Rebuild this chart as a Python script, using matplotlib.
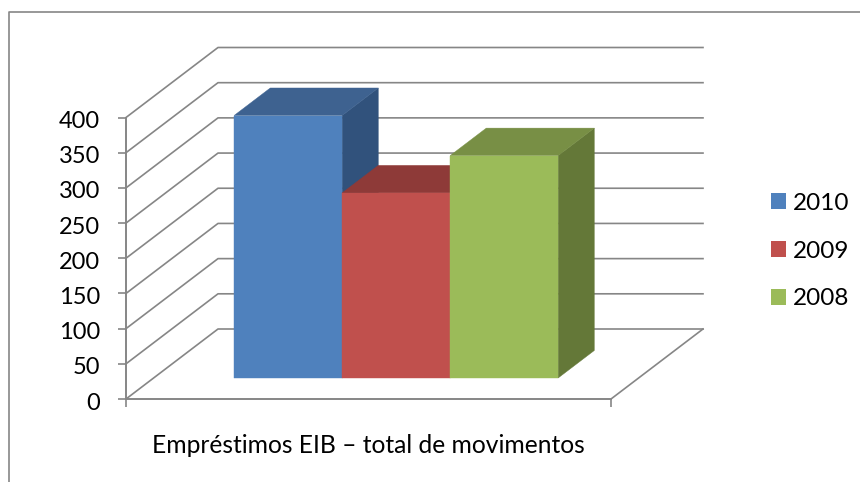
from matplotlib import pyplot as plt
from matplotlib.lines import Line2D
from matplotlib.patches import Patch, Polygon
from matplotlib.transforms import ScaledTranslation

plt.rcParams['font.family'] = ['Lato', 'DejaVu Sans']

years = ['2010', '2009', '2008']
totals = [373, 263, 316]
y_ticks = [0, 50, 100, 150, 200, 250, 300, 350, 400]
x_title = 'Empréstimos EIB – total de movimentos'

front_colors = ['#4F81BD', '#C0504D', '#9BBB59']
top_colors = ['#3E6290', '#8E3A38', '#788F45']
side_colors = ['#31527C', '#7B3331', '#647838']
line_color = '#868686'

W, H = 860, 482
# oblique projection: how far a point moves when it goes to the back wall
depth_x = 92 / 485
depth_y = 70 / (281.5 / 400)
bar_start = 0.166
bar_width = 0.2227
bar_d0, bar_d1 = 0.30, 0.693


def project(x, y, d):
    return x + d * depth_x, y + d * depth_y


def face(ax, points, color):
    ax.add_patch(Polygon(points, closed=True, facecolor=color, edgecolor=color,
                         linewidth=0.3, clip_on=False, zorder=3))


fig = plt.figure(figsize=(W / 100, H / 100), dpi=100)
ax = fig.add_axes([126 / W, (H - 399) / H, 485 / W, 281.5 / H])
ax.patch.set_visible(False)
ax.set_xlim(0, 1)
ax.set_ylim(0, 400)

# outer frame, only left and top are inside the picture
fig.add_artist(Line2D([8.7 / W, 8.7 / W, 1], [0, 1 - 12 / H, 1 - 12 / H], color=line_color, lw=1.2))

# walls
for v in y_ticks:
    bx, by = project(0, v, 1)
    ax.plot([0, bx, bx + 1], [v, by, by], color=line_color, lw=1.2, clip_on=False, zorder=1)
bx, by = project(1, 0, 1)
ax.plot([1, bx], [0, by], color=line_color, lw=1.2, clip_on=False, zorder=1)

# bars
for i, v in enumerate(totals):
    x0 = bar_start + i * bar_width
    x1 = x0 + bar_width
    fl, fb = project(x0, 0, bar_d0)
    fr, ft = project(x1, v, bar_d0)
    bl, bb = project(x0, 0, bar_d1)
    br, bt = project(x1, v, bar_d1)
    face(ax, [(fr, fb), (br, bb), (br, bt), (fr, ft)], side_colors[i])
    face(ax, [(fl, ft), (fr, ft), (br, bt), (bl, bt)], top_colors[i])
    face(ax, [(fl, fb), (fr, fb), (fr, ft), (fl, ft)], front_colors[i])

for side in ['top', 'right']:
    ax.spines[side].set_visible(False)
for side in ['left', 'bottom']:
    ax.spines[side].set_color(line_color)
    ax.spines[side].set_linewidth(1.4)

ax.set_yticks(y_ticks)
ax.set_xticks([0, 1])
ax.set_xticklabels(['', ''])
ax.tick_params(axis='y', length=6, width=1.2, color=line_color, labelsize=17, pad=12.5, labelcolor='black')
ax.tick_params(axis='x', length=6, width=1.2, color=line_color)
ax.set_xlabel(x_title, fontsize=17.7, color='black', labelpad=16)

# labels sit a little under their ticks in the original
nudge = ScaledTranslation(0, -1.5 / 72, fig.dpi_scale_trans)
for label in ax.get_yticklabels():
    label.set_transform(label.get_transform() + nudge)

handles = [Patch(facecolor=c, edgecolor='none', label=y) for c, y in zip(front_colors, years)]
fig.legend(handles=handles, loc='center left', bbox_to_anchor=(771 / W, 1 - 251 / H), frameon=False,
           fontsize=17.5, handlelength=0.62, handleheight=0.62, handletextpad=0.3, labelspacing=1.1,
           borderpad=0, borderaxespad=0)

fig.savefig('out.png', dpi=100)
